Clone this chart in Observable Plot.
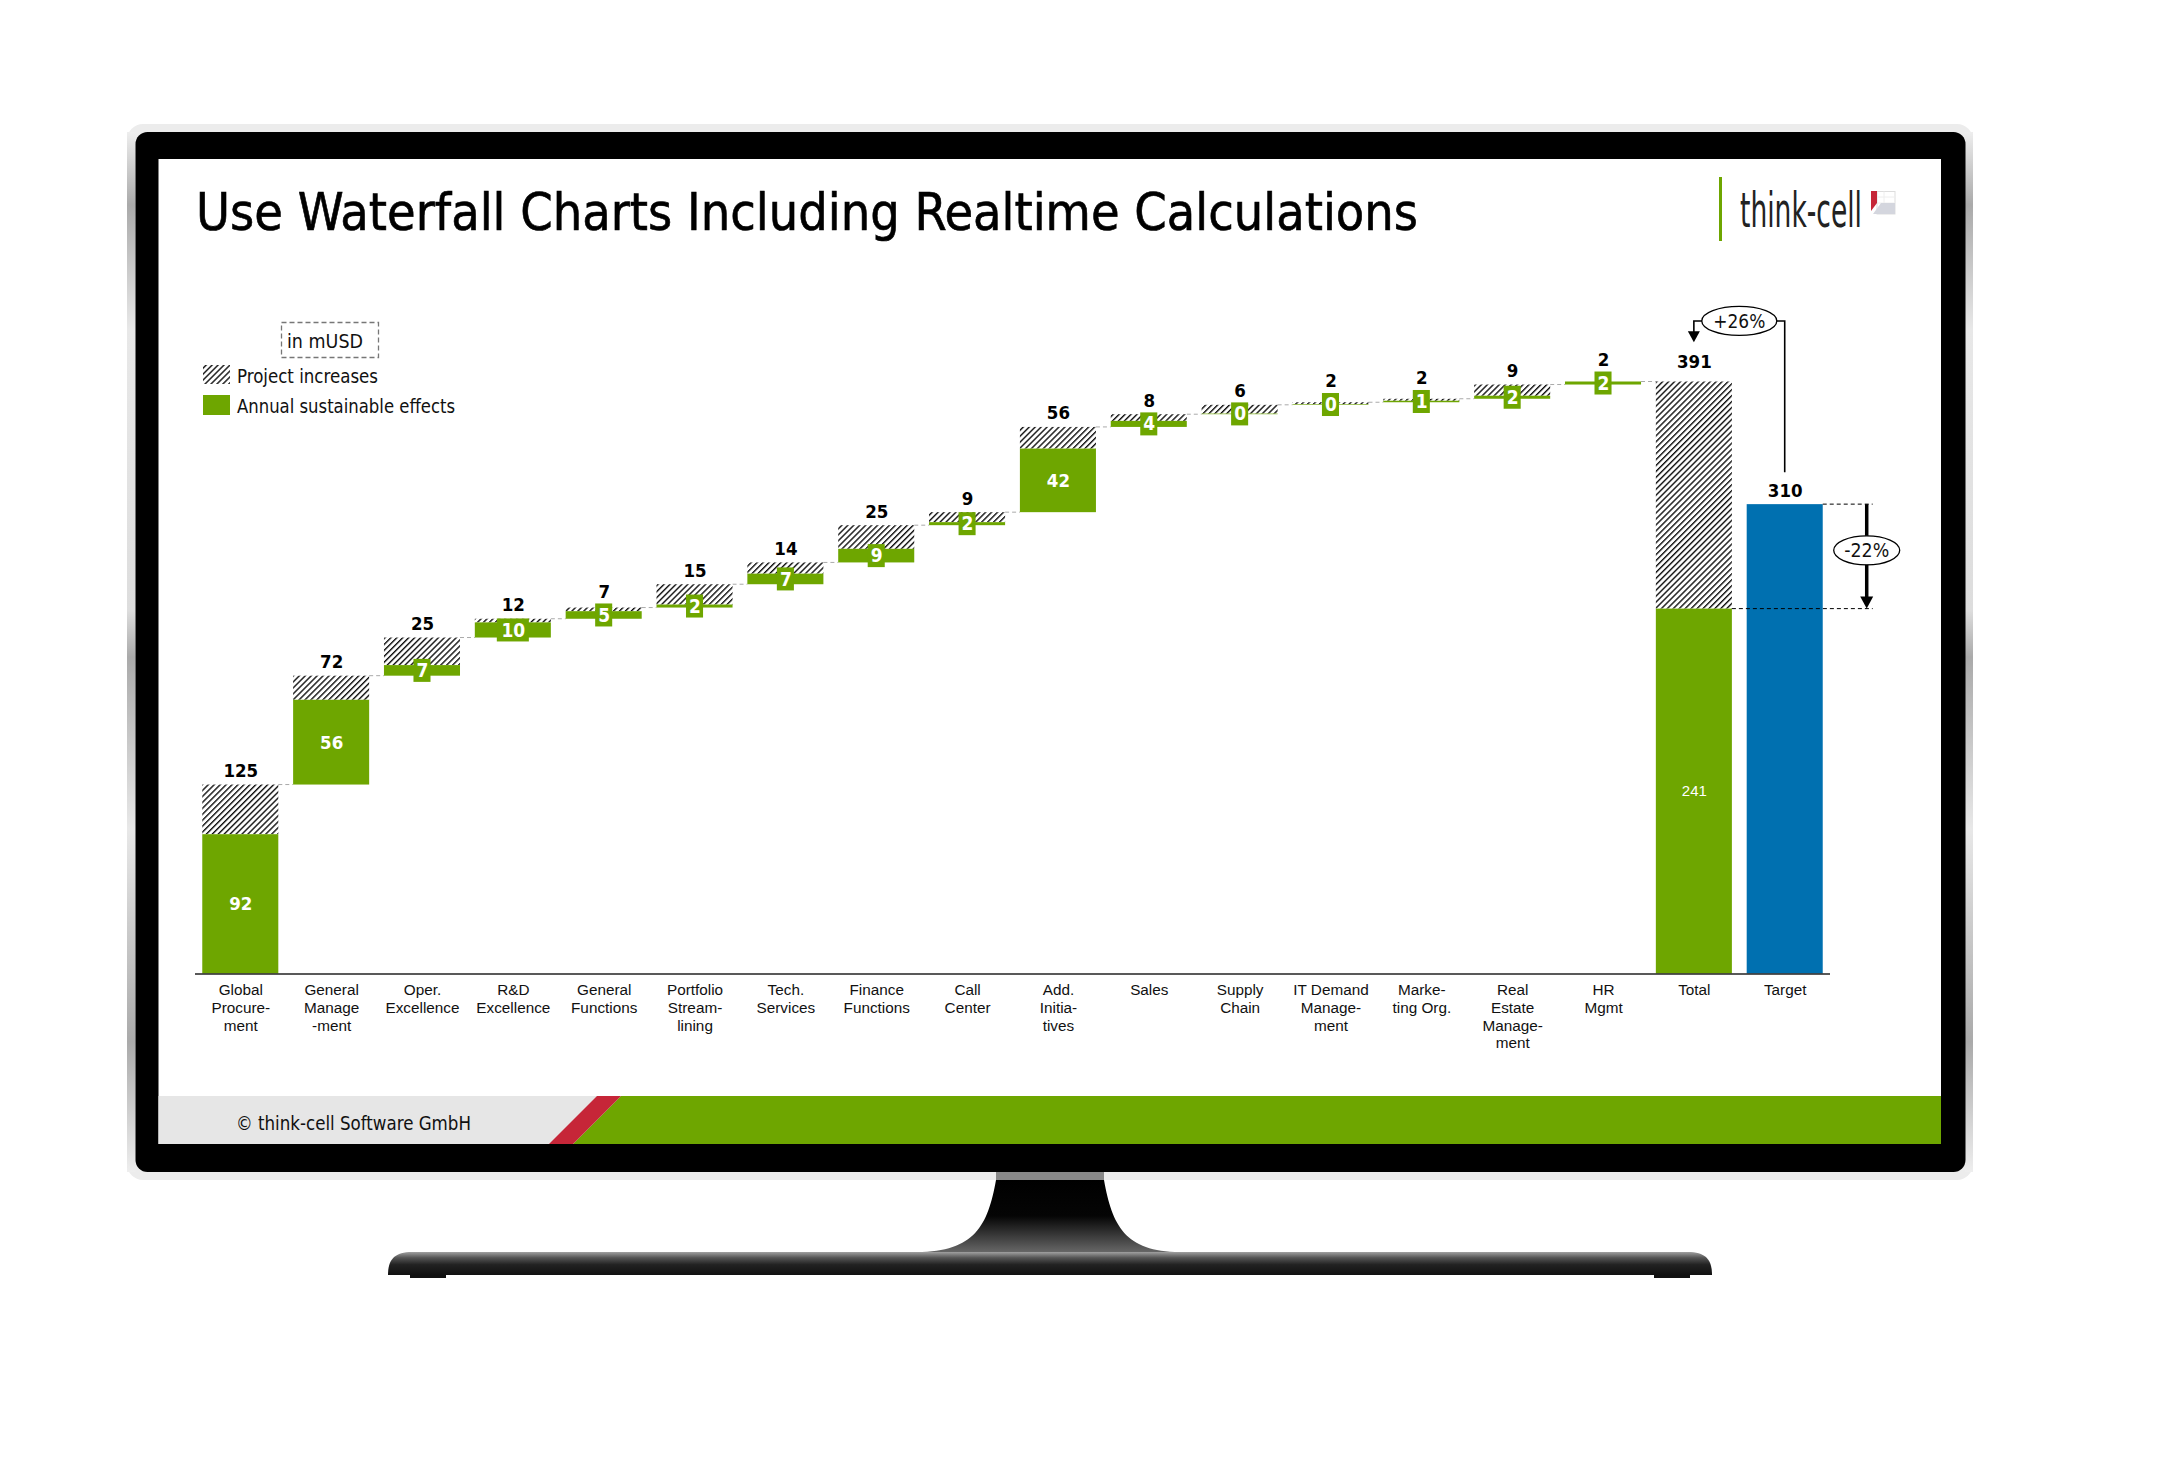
<!DOCTYPE html>
<html><head><meta charset="utf-8">
<script src="https://cdn.jsdelivr.net/npm/d3@7"></script>
<script src="https://cdn.jsdelivr.net/npm/@observablehq/plot@0.6"></script>
<style>
html,body{margin:0;padding:0;background:#fff;overflow:hidden}
#page{position:relative;width:2159px;height:1459px}
#page>svg{position:absolute;left:0;top:0}
.tah{font-family:"DejaVu Sans Condensed","DejaVu Sans";font-stretch:condensed}
</style></head><body>
<div id="page">
<svg id="bg" width="2159" height="1459" viewBox="0 0 2159 1459">
<defs>
<pattern id="hatch" width="4.200" height="4.200" patternUnits="userSpaceOnUse" patternTransform="rotate(45)">
<rect width="4.200" height="4.200" fill="#fff"/><rect width="1.400" height="4.200" fill="#111"/>
</pattern>
<linearGradient id="side" x1="0" y1="0" x2="0" y2="1">
<stop offset="0" stop-color="#eeeeee"/><stop offset=".07" stop-color="#aaaaaa"/><stop offset=".19" stop-color="#e8e8e8"/>
<stop offset=".46" stop-color="#dddddd"/><stop offset=".505" stop-color="#aaaaaa"/><stop offset=".67" stop-color="#e8e8e8"/>
<stop offset=".875" stop-color="#aaaaaa"/><stop offset="1" stop-color="#eeeeee"/>
</linearGradient>
<linearGradient id="neck" x1="0" y1="0" x2="0" y2="1">
<stop offset="0" stop-color="#000"/><stop offset=".5" stop-color="#050505"/><stop offset="1" stop-color="#666"/>
</linearGradient>
<linearGradient id="base" x1="0" y1="0" x2="0" y2="1">
<stop offset="0" stop-color="#a0a0a0"/><stop offset=".25" stop-color="#555"/><stop offset=".55" stop-color="#222"/><stop offset="1" stop-color="#111"/>
</linearGradient>
</defs>
<rect x="127" y="124" width="1846" height="1056" rx="16" fill="#ececec"/>
<rect x="127" y="132" width="8.500" height="1040" fill="url(#side)"/>
<rect x="1965" y="132" width="8" height="1040" fill="url(#side)"/>
<rect x="135.500" y="132" width="1830" height="1040" rx="12" fill="#000"/>
<rect x="158.500" y="159" width="1782.500" height="985" fill="#fff"/>
<!-- stand -->
<rect x="996" y="1172" width="108" height="8" fill="#888"/>
<path d="M996 1180 C988 1225 975 1252 917 1252 L1180 1252 C1125 1252 1112 1225 1104 1180 Z" fill="url(#neck)"/>
<path d="M388 1275 C388 1260 394 1252 412 1252 L1688 1252 C1706 1252 1712 1260 1712 1275 Z" fill="url(#base)"/>
<rect x="410" y="1275" width="36" height="3" fill="#111"/><rect x="1654" y="1275" width="36" height="3" fill="#111"/>
<!-- footer -->
<rect x="158.500" y="1096" width="1782.500" height="48" fill="#e6e6e6"/>
<polygon points="621,1096 1941,1096 1941,1144 573,1144" fill="#6ea600"/>
<polygon points="597,1096 621,1096 573,1144 549,1144" fill="#c62638"/>
<text class="tah" x="236" y="1129.500" font-size="20" textLength="235" lengthAdjust="spacingAndGlyphs" fill="#111">© think-cell Software GmbH</text>
<!-- title -->
<text class="tah" x="196" y="230" font-size="52" textLength="1222" lengthAdjust="spacingAndGlyphs" fill="#000" stroke="#000" stroke-width=".6">Use Waterfall Charts Including Realtime Calculations</text>
<!-- logo -->
<rect x="1719" y="177" width="3" height="64" fill="#6ea600"/>
<text x="1740" y="227" font-family="'Liberation Sans Narrow','DejaVu Sans Condensed'" font-size="48" textLength="122" lengthAdjust="spacingAndGlyphs" fill="#222">think-cell</text>
<rect x="1877" y="191.500" width="18" height="22.500" fill="#fff" stroke="#ddd"/>
<path d="M1877 197H1895M1877 203H1895M1884 191.500V214" stroke="#eee" fill="none"/>
<polygon points="1881,203 1895,203 1895,214 1873,214" fill="#d4d6de"/>
<polygon points="1871,191 1877,191 1877,203 1871,211" fill="#c62638"/>
<!-- legend -->
<rect x="281.500" y="322.500" width="97" height="35" fill="#fff" stroke="#777" stroke-width="1.300" stroke-dasharray="5 3"/>
<text class="tah" x="287" y="348" font-size="20" textLength="76" lengthAdjust="spacingAndGlyphs" fill="#111">in mUSD</text>
<rect x="203" y="365" width="27" height="19" fill="url(#hatch)"/>
<text class="tah" x="237" y="383" font-size="20" textLength="141" lengthAdjust="spacingAndGlyphs" fill="#111">Project increases</text>
<rect x="203" y="395" width="27" height="20" fill="#6ea600"/>
<text class="tah" x="237" y="413" font-size="20" textLength="218" lengthAdjust="spacingAndGlyphs" fill="#111">Annual sustainable effects</text>
</svg>
</div>
<script>
// ---- data ----
const categories = ["Global\nProcure-\nment","General\nManage\n-ment","Oper.\nExcellence","R&D\nExcellence","General\nFunctions","Portfolio\nStream-\nlining","Tech.\nServices","Finance\nFunctions","Call\nCenter","Add.\nInitia-\ntives","Sales","Supply\nChain","IT Demand\nManage-\nment","Marke-\nting Org.","Real\nEstate\nManage-\nment","HR\nMgmt"];
const projectIncreases = [124.8,71.9,25.2,12.4,7.4,15.4,14.4,24.6,8.6,56.3,8.4,6.2,1.7,2.3,9.4,2.0];
const sustainableEffects = [92,56,7,10,5,2,7,9,2,42,4,0.4,0.4,1,2,2];
const totalCategory = "Total", targetCategory = "Target";
const totalValue = 391, totalSustainable = 241, targetValue = 310;
const upLabel = "+26%", downLabel = "-22%";
const annotationLevels = {bracket: 431, bracketEnd: 331, arrowTip: 417, ellipse: 279.5};

const GREEN = "#6ea600", BLUE = "#0070b0";
const NUM = '"DejaVu Sans Condensed","DejaVu Sans",Verdana,sans-serif';
const ARIAL = '"Liberation Sans",Arial,sans-serif';
const round = d3.format(".0f");
const unitsPerPx = 391 / 592;

let run = 0;
const rows = categories.map((cat,i)=>{
  const base = run; run += projectIncreases[i];
  return {cat, base, top: run, green: sustainableEffects[i], inc: projectIncreases[i]};
});
const connectors = rows.map((r,i)=>({a:r.cat, b:i+1<rows.length?rows[i+1].cat:totalCategory, y:r.top}));
const boxed = rows.filter(r=>r.green<20);
const big = rows.filter(r=>r.green>=20);
const labelY = d => {
  const above = d.top + 14*unitsPerPx;
  return d.green<20 ? Math.max(above, d.base+d.green/2 + 23.5*unitsPerPx) : above;
};

function el(tag,attrs,txt){const e=document.createElementNS("http://www.w3.org/2000/svg",tag);
  for(const k in attrs)e.setAttribute(k,attrs[k]); if(txt!=null)e.textContent=txt; return e;}

// dashed connectors drawn only across the gap between neighbouring bars
function connectorMark(index,scales){
  const g=el("g",{stroke:"#aaa","stroke-width":1,"stroke-dasharray":"4 3",fill:"none"});
  const bw=scales.x.bandwidth();
  for(const c of connectors){
    g.appendChild(el("path",{d:`M${scales.x(c.a)+bw} ${scales.y(c.y)}H${scales.x(c.b)}`}));
  }
  return g;
}

function annotations(index,scales){
  const g=el("g",{});
  const bw=scales.x.bandwidth();
  const cxT=scales.x(totalCategory)+bw/2, cxG=scales.x(targetCategory)+bw/2, y=scales.y;
  const add=(t,a,x)=>{const e=el(t,a,x);g.appendChild(e);return e;};
  // +26% bracket
  const by=y(annotationLevels.bracket);
  add("path",{d:`M${cxT} ${y(annotationLevels.arrowTip)-9}V${by}H${cxG}V${y(annotationLevels.bracketEnd)}`,fill:"none",stroke:"#000","stroke-width":1.6});
  const tip=y(annotationLevels.arrowTip);
  add("path",{d:`M${cxT} ${tip}l-6 -11h12z`,fill:"#000"});
  const ex=(cxT+cxG)/2;
  add("ellipse",{cx:ex,cy:by,rx:37.5,ry:14.5,fill:"#fff",stroke:"#000","stroke-width":1.3});
  add("text",{class:"tah",x:ex,y:by+7,"text-anchor":"middle","font-size":20,textLength:52,lengthAdjust:"spacingAndGlyphs",fill:"#111"},upLabel);
  // -22% arrow with dashed guides
  const ax=cxG+82, yA=y(targetValue), yB=y(totalSustainable);
  add("path",{d:`M${scales.x(targetCategory)+bw} ${yA}H${ax+6}`,stroke:"#000","stroke-width":1,"stroke-dasharray":"4 3",fill:"none"});
  add("path",{d:`M${scales.x(totalCategory)+bw} ${yB}H${ax+6}`,stroke:"#000","stroke-width":1,"stroke-dasharray":"4 3",fill:"none"});
  add("path",{d:`M${ax} ${yA}V${yB-10}`,stroke:"#000","stroke-width":3.5,fill:"none"});
  add("path",{d:`M${ax} ${yB}l-6.500 -12h13z`,fill:"#000"});
  const ey=y(annotationLevels.ellipse);
  add("ellipse",{cx:ax,cy:ey,rx:33,ry:14.5,fill:"#fff",stroke:"#000","stroke-width":1.3});
  add("text",{class:"tah",x:ax,y:ey+7,"text-anchor":"middle","font-size":20,textLength:45,lengthAdjust:"spacingAndGlyphs",fill:"#111"},downLabel);
  return g;
}

const chart = Plot.plot({
  width:2159, height:1459,
  marginLeft:195, marginRight:329, marginTop:381.500, marginBottom:485.500,
  style:{background:"transparent",overflow:"visible"},
  x:{domain:[...categories,totalCategory,targetCategory],paddingInner:0.163,paddingOuter:0.08,align:0.5,round:false,label:null},
  y:{domain:[0,totalValue],axis:null},
  marks:[
    connectorMark,
    Plot.barY(rows,{x:"cat",y1:d=>d.base+d.green,y2:"top",fill:"url(#hatch)"}),
    Plot.barY(rows,{x:"cat",y1:"base",y2:d=>d.base+d.green,fill:GREEN}),
    Plot.barY([totalCategory],{x:d=>d,y1:totalSustainable,y2:totalValue,fill:"url(#hatch)"}),
    Plot.barY([totalCategory],{x:d=>d,y1:0,y2:totalSustainable,fill:GREEN}),
    Plot.barY([targetCategory],{x:d=>d,y1:0,y2:targetValue,fill:BLUE}),
    Plot.ruleY([0],{stroke:"#222",strokeWidth:1.500}),
    Plot.axisX({tickSize:0,tickPadding:8,lineAnchor:"top",lineHeight:1.170,fontSize:15.300,fontFamily:ARIAL,fill:"#111",label:null,textOverflow:null}),
    // boxes behind the sustainable-effect labels of small steps
    Plot.barY(boxed.filter(r=>round(r.green).length===1),{x:"cat",y1:d=>d.base+d.green/2,y2:d=>d.base+d.green/2,fill:GREEN,insetLeft:29.500,insetRight:29.500,insetTop:-11.500,insetBottom:-11.500}),
    Plot.barY(boxed.filter(r=>round(r.green).length>1),{x:"cat",y1:d=>d.base+d.green/2,y2:d=>d.base+d.green/2,fill:GREEN,insetLeft:22,insetRight:22,insetTop:-11.500,insetBottom:-11.500}),
    Plot.text(boxed,{x:"cat",y:d=>d.base+d.green/2,text:d=>round(d.green),fill:"#fff",fontFamily:NUM,fontWeight:"bold",fontSize:19}),
    Plot.text(big,{x:"cat",y:d=>d.base+d.green/2,text:d=>round(d.green),fill:"#fff",fontFamily:NUM,fontWeight:"bold",fontSize:18.500}),
    Plot.text([totalCategory],{x:d=>d,y:totalSustainable/2,text:()=>round(totalSustainable),fill:"#fff",fontFamily:ARIAL,fontSize:15}),
    // totals above each bar
    Plot.text(rows,{x:"cat",y:labelY,text:d=>round(d.inc),fill:"#000",fontFamily:NUM,fontWeight:"bold",fontSize:18.500}),
    Plot.text([totalCategory],{x:d=>d,y:totalValue,text:()=>round(totalValue),dy:-20,fill:"#000",fontFamily:NUM,fontWeight:"bold",fontSize:18.500}),
    Plot.text([targetCategory],{x:d=>d,y:targetValue,text:()=>round(targetValue),dy:-14,fill:"#000",fontFamily:NUM,fontWeight:"bold",fontSize:18.500}),
    annotations
  ]
});
document.getElementById("page").appendChild(chart);
</script>
</body></html>
